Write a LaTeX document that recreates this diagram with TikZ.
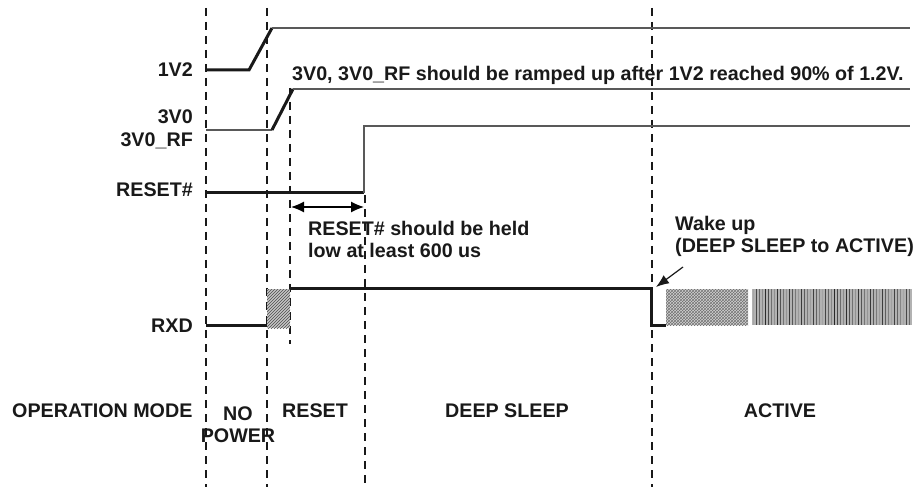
\documentclass[tikz,border=0pt]{standalone}
\usepackage{fontspec}
\setmainfont{Liberation Sans}
\usetikzlibrary{arrows.meta,patterns}

\tikzset{
  sig/.style={line width=3pt, black!90},
  rail/.style={line width=1.2pt, black!65},
  guide/.style={line width=2pt, black!90, dash pattern=on 8pt off 6pt},
  lbl/.style={font=\fontsize{19.7}{22}\selectfont\bfseries, inner sep=0pt, black!90},
  hint/.style={-{Latex[length=13pt,width=10pt]}, line width=1.2pt, black!90},
}

\begin{document}
\begin{tikzpicture}[x=1pt,y=-1pt]
    \useasboundingbox (0,0) rectangle (924,489);

    %   Mode borders
    \draw[guide] (206,8) -- (206,487);
    \draw[guide] (267,8) -- (267,487);
    \draw[guide] (290,88) -- (290,344);
    \draw[guide] (365,195) -- (365,483);
    \draw[guide] (652,8) -- (652,487);

    %   Signal names
    \node[lbl, anchor=base east] (n1v2) at (193,77) {1V2};
    \node[lbl, anchor=base east] (n3v0) at (193,124) {3V0};
    \node[lbl, anchor=base east] (n3v0rf) at (193,147) {3V0\_RF};
    \node[lbl, anchor=base east] (nreset) at (193,197) {RESET\#};
    \node[lbl, anchor=base east] (nrxd) at (193,332) {RXD};

    %   1V2
    \draw[sig] (206,70) -- (249,70) -- (272,28);
    \draw[rail] (272,28) -- (910,28);

    %   3V0, 3V0_RF
    \draw[rail] (206,130) -- (272,130);
    \draw[sig] (272,130) -- (293,89);
    \draw[rail] (293,89) -- (910,89);
    \node[lbl, anchor=base west] (ramp) at (292,81)
        {3V0, 3V0\_RF should be ramped up after 1V2 reached 90\% of 1.2V.};

    %   RESET#
    \draw[sig] (206,193) -- (364,193);
    \draw[rail] (364,193) -- (364,126) -- (910,126);
    \coordinate (hold0) at (291,207);
    \coordinate (hold1) at (364,207);
    \draw[{Latex[length=13pt,width=11pt]}-{Latex[length=13pt,width=11pt]}, line width=1.2pt] (hold0) -- (hold1);
    \node[lbl, anchor=base west, align=left] (holdtxt) at (308,258)
        {RESET\# should be held\\low at least 600 us};

    %   RXD
    \draw[sig] (206,325) -- (267,325);
    \fill[gray!45] (267,289) rectangle (290,328);
    \fill[pattern=north east lines, pattern color=black!70] (267,289) rectangle (290,328);
    \draw[sig] (290,288) -- (651,288) -- (651,325) -- (666,325);
    \fill[gray!35] (666,289) rectangle (748,325);
    \fill[pattern=crosshatch, pattern color=black!55] (666,289) rectangle (748,325);
    \fill[gray!60] (752,289) rectangle (912,325);
    \foreach \s in {0,...,52} {
        \pgfmathsetmacro\g{35+mod(\s*37,50)}
        \draw[black!\g, line width=1.5pt] ({753.5+3*\s},289) -- ({753.5+3*\s},325);
    }

    %   Wake up
    \node[lbl, anchor=base west, align=left] (wake) at (675,253)
        {Wake up\\(DEEP SLEEP to ACTIVE)};
    \coordinate (wake0) at (683,267);
    \coordinate (wake1) at (656,287);
    \draw[hint] (wake0) -- (wake1);

    %   Operation modes
    \node[lbl, anchor=base west] (opmode) at (12,417) {OPERATION MODE};
    \node[lbl, anchor=base, align=center] (nopower) at (238,442) {NO\\POWER};
    \node[lbl, anchor=base west] (mreset) at (282,417) {RESET};
    \node[lbl, anchor=base] (msleep) at (507,417) {DEEP SLEEP};
    \node[lbl, anchor=base] (mactive) at (780,417) {ACTIVE};
\end{tikzpicture}
\end{document}
